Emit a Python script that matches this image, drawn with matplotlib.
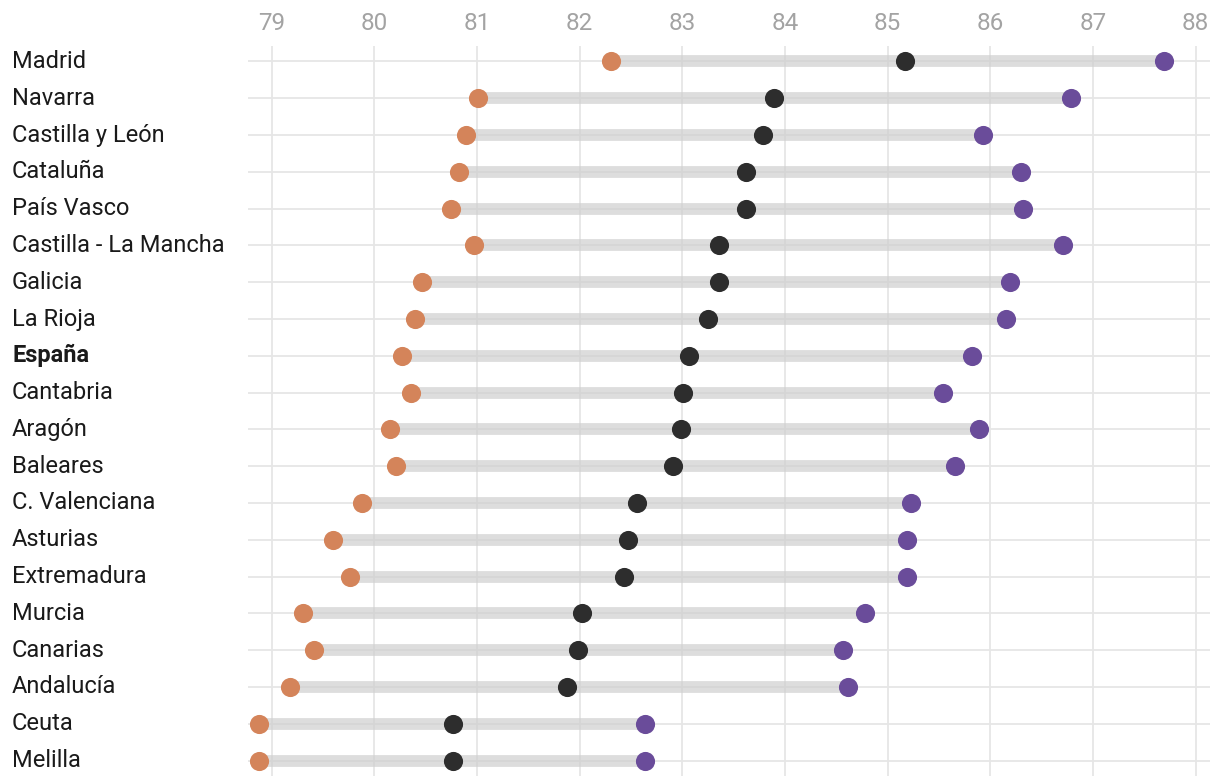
import numpy as np
import matplotlib
matplotlib.use("Agg")
from matplotlib import pyplot as plt
from matplotlib.transforms import blended_transform_factory

plt.rcParams['font.family'] = ['Roboto', 'DejaVu Sans']

regiones = ['Madrid', 'Navarra', 'Castilla y León', 'Cataluña', 'País Vasco',
            'Castilla - La Mancha', 'Galicia', 'La Rioja', 'España', 'Cantabria',
            'Aragón', 'Baleares', 'C. Valenciana', 'Asturias', 'Extremadura',
            'Murcia', 'Canarias', 'Andalucía', 'Ceuta', 'Melilla']

# hombres / total / mujeres (esperanza de vida)
hombres = [82.31, 81.01, 80.89, 80.83, 80.75, 80.97, 80.46, 80.40, 80.27, 80.36,
           80.15, 80.21, 79.88, 79.60, 79.76, 79.31, 79.41, 79.18, 78.88, 78.88]
total = [85.17, 83.89, 83.79, 83.62, 83.62, 83.36, 83.36, 83.25, 83.07, 83.01,
         82.99, 82.91, 82.56, 82.47, 82.43, 82.02, 81.98, 81.88, 80.77, 80.77]
mujeres = [87.69, 86.79, 85.93, 86.30, 86.32, 86.71, 86.19, 86.15, 85.82, 85.54,
           85.89, 85.66, 85.23, 85.19, 85.19, 84.78, 84.57, 84.61, 82.64, 82.64]

ticks = list(range(79, 89))

fig = plt.figure(figsize=(12.2, 7.84), dpi=100)
ax = fig.add_axes([248/1220, 8/784, (1210-248)/1220, (738-8)/784])

y = np.arange(len(regiones))

# gridlines
for t in ticks:
    ax.axvline(t, color='#e6e6e6', lw=1.3, zorder=0)
for yi in y:
    ax.axhline(yi, color='#e6e6e6', lw=1.3, zorder=0)

ax.hlines(y, hombres, mujeres, color='#cfcfcf', alpha=0.7, lw=8.5, zorder=1)
ax.scatter(hombres, y, s=190, color='#d4845a', zorder=3, lw=0)
ax.scatter(total, y, s=190, color='#2d2d2d', zorder=3, lw=0)
ax.scatter(mujeres, y, s=190, color='#6a4c9a', zorder=3, lw=0)

ax.set_xlim(78.77, 88.14)
ax.set_ylim(19.42, -0.42)
ax.set_xticks(ticks)
ax.xaxis.tick_top()
ax.tick_params(axis='x', length=0, pad=8, labelsize=17.5, labelcolor='#a3a3a3')
ax.set_yticks([])
for s in ax.spines.values():
    s.set_visible(False)

trans = blended_transform_factory(fig.transFigure, ax.transData)
for yi, r in zip(y, regiones):
    ax.text(12/1220, yi, r, transform=trans, ha='left', va='center',
            fontsize=17, color='#1a1a1a',
            fontweight='bold' if r == 'España' else 'normal')

fig.savefig('out.png', dpi=100)
